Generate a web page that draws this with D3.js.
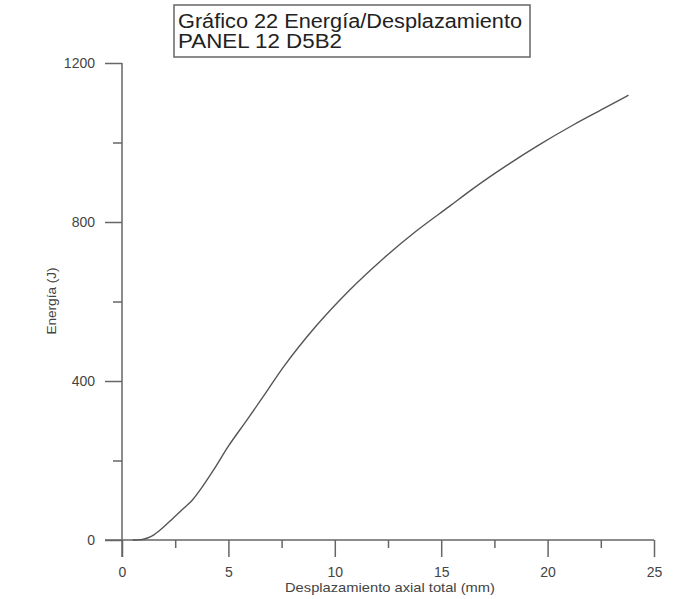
<!DOCTYPE html>
<html><head><meta charset="utf-8">
<script src="https://cdn.jsdelivr.net/npm/d3@7"></script>
<style>body{margin:0;background:#fff}svg{display:block}text{font-family:"Liberation Sans",Arial,sans-serif}</style>
</head><body>
<svg id="c" width="674" height="599"></svg>
<script>
const titleLines = ["Gráfico 22 Energía/Desplazamiento", "PANEL 12 D5B2"];
const titleWidths = [344, 164];
const xLabel = "Desplazamiento axial total (mm)";
const yLabel = "Energía (J)";
const xMajor = [0, 5, 10, 15, 20, 25];
const xMinor = [2.5, 7.5, 12.5, 17.5, 22.5];
const yMajor = [0, 400, 800, 1200];
const yMinor = [200, 600, 1000];
const disp = [0.5, 0.9, 1.2, 1.5, 1.9, 2.4, 2.9, 3.3, 3.7, 4.3, 5.0, 5.9, 6.6, 7.6, 9.1, 10.7, 12.3, 13.8, 15.4, 16.5, 18.1, 19.6, 21.2, 22.8, 23.8];
const energy = [0, 1, 5, 13, 30, 55, 80, 100, 128, 176, 236, 304, 358, 436, 537, 629, 709, 776, 840, 884, 943, 994, 1044, 1090, 1119];

const svg = d3.select("#c");
const x = d3.scaleLinear().domain([0, 25]).range([122, 654]);
const y = d3.scaleLinear().domain([0, 1200]).range([540, 63]);
const axisColor = "#666";

function style(g){
  g.select(".domain").attr("stroke", axisColor).attr("stroke-width", 1.5);
  g.selectAll(".tick line").attr("stroke", axisColor).attr("stroke-width", 1.5);
  g.selectAll("text").attr("fill", "#444").attr("font-size", 14);
}
// x axis
const gx = svg.append("g").attr("transform", `translate(0,${y(0)})`)
  .call(d3.axisBottom(x).tickValues(xMajor).tickSize(17).tickSizeOuter(0).tickPadding(10).tickFormat(d3.format("d")));
style(gx);
gx.select(".domain").attr("d", `M105,0H${x(25)}`);
const gxm = svg.append("g").attr("transform", `translate(0,${y(0)})`)
  .call(d3.axisBottom(x).tickValues(xMinor).tickSize(8).tickSizeOuter(0).tickFormat(""));
style(gxm); gxm.select(".domain").remove();

// y axis
const gy = svg.append("g").attr("transform", `translate(${x(0)},0)`)
  .call(d3.axisLeft(y).tickValues(yMajor).tickSize(17).tickSizeOuter(0).tickPadding(10).tickFormat(d3.format("d")));
style(gy);
gy.select(".domain").attr("d", `M0,${y(1200)}V557`);
const gym = svg.append("g").attr("transform", `translate(${x(0)},0)`)
  .call(d3.axisLeft(y).tickValues(yMinor).tickSize(9).tickSizeOuter(0).tickFormat(""));
style(gym); gym.select(".domain").remove();

// labels
svg.append("text").attr("x", 390).attr("y", 592).attr("text-anchor", "middle")
  .attr("font-size", 13).attr("fill", "#444")
  .attr("textLength", 210).attr("lengthAdjust", "spacingAndGlyphs").text(xLabel);
svg.append("text").attr("transform", "translate(56,301) rotate(-90)").attr("text-anchor", "middle")
  .attr("font-size", 13).attr("fill", "#444")
  .attr("textLength", 67).attr("lengthAdjust", "spacingAndGlyphs").text(yLabel);

// curve
const pts = disp.map((d, i) => [d, energy[i]]);
svg.append("path").datum(pts)
  .attr("d", d3.line().x(d => x(d[0])).y(d => y(d[1])).curve(d3.curveMonotoneX))
  .attr("fill", "none").attr("stroke", "#555").attr("stroke-width", 1.4);

// title box
svg.append("rect").attr("x", 174).attr("y", 5).attr("width", 356).attr("height", 52)
  .attr("fill", "#fff").attr("stroke", "#666").attr("stroke-width", 1.5);
titleLines.forEach((t, i) => {
  svg.append("text").attr("x", 178).attr("y", 28 + i * 20).attr("font-size", 20).attr("fill", "#222")
    .attr("textLength", titleWidths[i]).attr("lengthAdjust", "spacingAndGlyphs").text(t);
});
</script>
</body></html>
